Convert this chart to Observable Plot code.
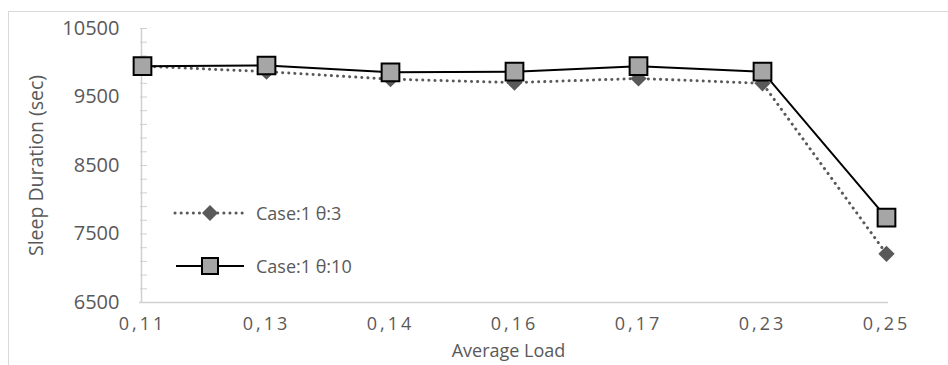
<!DOCTYPE html>
<html><head><meta charset="utf-8">
<script src="https://cdn.jsdelivr.net/npm/d3@7"></script>
<script src="https://cdn.jsdelivr.net/npm/@observablehq/plot@0.6"></script>
<style>
body{margin:0;background:#fff;font-family:"Open Sans",sans-serif;}
#wrap{position:relative;width:948px;height:365px;overflow:hidden;}
#border{position:absolute;left:8px;top:11px;width:960px;height:400px;border:1.5px solid #d9d9d9;box-sizing:border-box;}
#legend{position:absolute;left:172px;top:199px;font-family:"Open Sans",sans-serif;font-size:18px;color:#595959;}
#legend .row{display:flex;align-items:center;height:28px;margin-bottom:25px;}
#legend svg{margin-right:8px;}
.xax text{letter-spacing:3px;}
</style></head>
<body><div id="wrap"><div id="border"></div><div id="chart"></div><div id="legend"></div></div>
<script>
const loads = ["0,11","0,13","0,14","0,16","0,17","0,23","0,25"];
const theta3 = [9950, 9870, 9760, 9710, 9770, 9700, 7210];
const theta10 = [9950, 9960, 9860, 9870, 9950, 9870, 7740];
const seriesNames = ["Case:1 θ:3", "Case:1 θ:10"];
const yTicks = [6500, 7500, 8500, 9500, 10500];
const yMinor = d3.range(6500, 10501, 200);

const d3s = loads.map((l,i)=>({load:l, v:theta3[i]}));
const d10 = loads.map((l,i)=>({load:l, v:theta10[i]}));
const grey = "#595959";

const chart = Plot.plot({
  width: 948, height: 365,
  marginLeft: 140, marginRight: 60, marginTop: 28, marginBottom: 63,
  style: {fontFamily: "Open Sans, sans-serif", color: grey, background: "transparent", overflow:"visible"},
  x: {type: "point", domain: loads, padding: 0, label: null},
  y: {domain: [6500, 10500], label: null},
  marks: [
    Plot.axisY({ticks: yMinor, tickSize: -7, text: null, label: null, stroke: "#d0d0d0", strokeWidth: 1}),
    Plot.axisY({ticks: yTicks, tickSize: 0, tickPadding: 21, fontSize: 20, fill: grey, label: null, tickFormat: d => String(d)}),
    Plot.axisX({tickSize: 0, tickPadding: 15, fontSize: 18, fill: grey, label: null, className: "xax"}),
    Plot.ruleY([6500], {stroke: "#d0d0d0", strokeWidth: 1.5, insetLeft: -1}),
    Plot.ruleX([loads[0]], {stroke: "#d0d0d0", strokeWidth: 1.5, dx: -1}),
    Plot.line(d3s, {x: "load", y: "v", stroke: grey, strokeWidth: 3, strokeDasharray: "0.1,6", strokeLinecap: "round"}),
    Plot.dot(d3s, {x: "load", y: "v", symbol: "diamond2", r: 7.3, fill: grey, stroke: null}),
    Plot.line(d10, {x: "load", y: "v", stroke: "#000", strokeWidth: 2}),
    Plot.dot(d10, {x: "load", y: "v", symbol: "square", r: 10, fill: "#a6a6a6", stroke: "#000", strokeWidth: 2}),
    Plot.text(["Sleep Duration (sec)"], {frameAnchor: "left", textAnchor: "middle", dx: -104, rotate: -90, fontSize: 19.5, fill: grey}),
    Plot.text(["Average Load"], {frameAnchor: "bottom", dy: 54, dx: -6, fontSize: 18, fill: grey})
  ]
});
document.getElementById("chart").appendChild(chart);

const leg = document.getElementById("legend");
leg.innerHTML = `
<div class="row"><svg width="76" height="20"><line x1="3" y1="10" x2="74" y2="10" stroke="${grey}" stroke-width="3" stroke-dasharray="0.1,6" stroke-linecap="round"/><path d="M38,2 L46,10 L38,18 L30,10 Z" fill="${grey}"/></svg><span>${seriesNames[0]}</span></div>
<div class="row"><svg width="76" height="22"><line x1="4" y1="11" x2="72" y2="11" stroke="#000" stroke-width="2"/><rect x="30" y="3" width="16" height="16" fill="#a6a6a6" stroke="#000" stroke-width="2"/></svg><span>${seriesNames[1]}</span></div>`;
</script></body></html>
